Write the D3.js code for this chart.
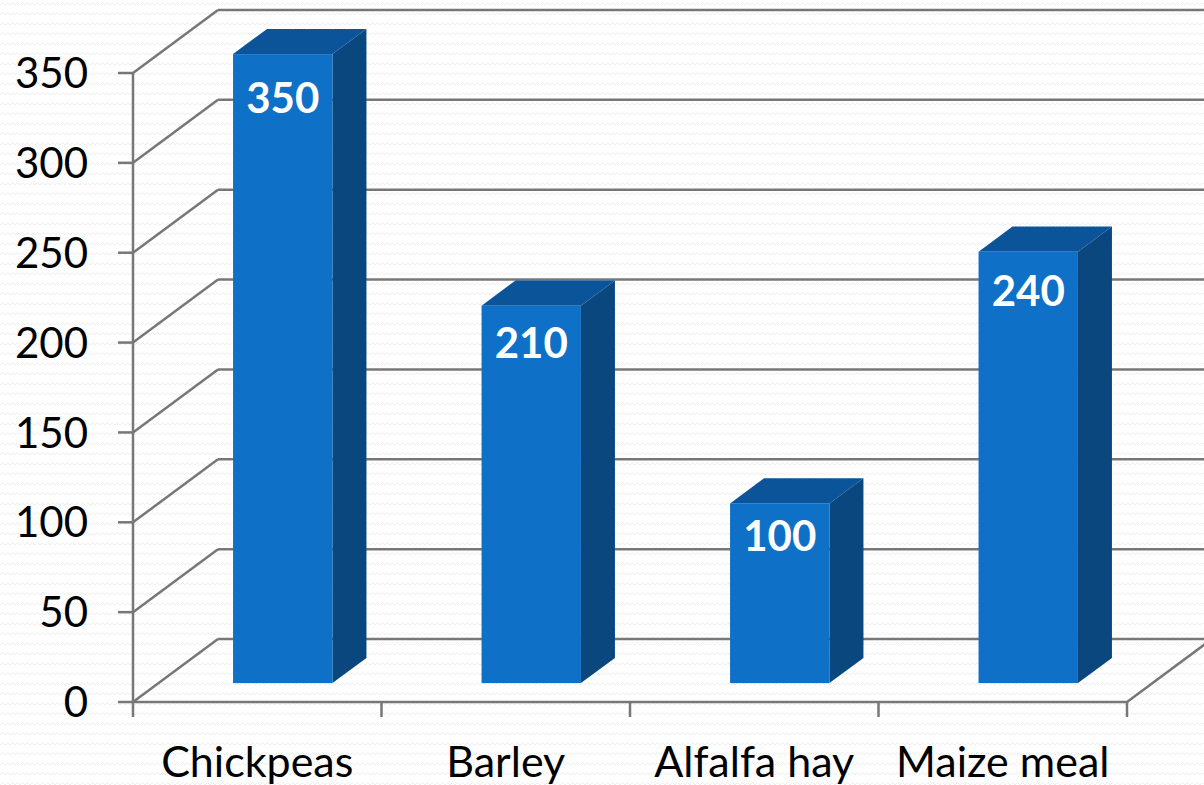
<!DOCTYPE html>
<html>
<head>
<meta charset="utf-8">
<script src="https://cdn.jsdelivr.net/npm/d3@7"></script>
<style>
  html, body { margin: 0; padding: 0; background: #fff; }
  text { font-family: Lato, "Open Sans", sans-serif; }
</style>
</head>
<body>
<div id="chart"></div>
<script>
const categories = ["Chickpeas", "Barley", "Alfalfa hay", "Maize meal"];
const values = [350, 210, 100, 240];
const yTicks = [0, 50, 100, 150, 200, 250, 300, 350];

const width = 1204;
const height = 785;

// depth vector of the 3D box (front -> back)
const dx = 85, dy = -63;

const svg = d3.select("#chart").append("svg")
    .attr("width", width)
    .attr("height", height);

// faint zigzag background texture
const pat = svg.append("defs").append("pattern")
    .attr("id", "zig")
    .attr("width", 10).attr("height", 10)
    .attr("patternUnits", "userSpaceOnUse");
pat.append("path")
    .attr("d", "M0,5 L2.5,2.5 L5,5 L7.5,2.5 L10,5")
    .attr("fill", "none")
    .attr("stroke", "#ededed")
    .attr("stroke-width", 1);
svg.append("rect").attr("width", width).attr("height", height).attr("fill", "#fff");
svg.append("rect").attr("width", width).attr("height", height).attr("fill", "url(#zig)");

const x = d3.scaleBand().domain(categories).range([133, 1127]).padding(0);
const y = d3.scaleLinear().domain([0, 350]).range([702, 73]);

const gridColor = "#777";
const grid = svg.append("g")
    .attr("stroke", gridColor)
    .attr("stroke-width", 2.5)
    .attr("fill", "none");

// back wall lines + side wall diagonals
yTicks.forEach(function(t) {
    grid.append("line")
        .attr("x1", 133 + dx).attr("y1", y(t) + dy)
        .attr("x2", 1127 + dx).attr("y2", y(t) + dy);
    grid.append("line")
        .attr("x1", 133).attr("y1", y(t))
        .attr("x2", 133 + dx).attr("y2", y(t) + dy);
});

// floor front edge and right diagonal
grid.append("line").attr("x1", 133).attr("y1", y(0)).attr("x2", 1127).attr("y2", y(0));
grid.append("line").attr("x1", 1127).attr("y1", y(0)).attr("x2", 1127 + dx).attr("y2", y(0) + dy);

// value axis
grid.append("line").attr("x1", 133).attr("y1", y(350)).attr("x2", 133).attr("y2", y(0));
yTicks.forEach(function(t) {
    grid.append("line").attr("x1", 118).attr("y1", y(t)).attr("x2", 133).attr("y2", y(t));
});

// category ticks
const catEdges = categories.map(c => x(c)).concat([x.range()[1]]);
catEdges.forEach(function(e) {
    grid.append("line").attr("x1", e).attr("y1", y(0)).attr("x2", e).attr("y2", y(0) + 15);
});

// tick labels
svg.append("g").selectAll("text")
    .data(yTicks)
    .enter().append("text")
    .attr("x", 88)
    .attr("y", d => y(d))
    .attr("dy", "0.36em")
    .attr("text-anchor", "end")
    .attr("font-size", 42)
    .attr("fill", "#000")
    .text(d => d);

svg.append("g").selectAll("text")
    .data(categories)
    .enter().append("text")
    .attr("x", d => x(d) + x.bandwidth() / 2)
    .attr("y", 777)
    .attr("text-anchor", "middle")
    .attr("font-size", 43)
    .attr("fill", "#000")
    .text(d => d);

// bars
const barW = x.bandwidth() * 0.4;
const f0 = 0.3, fd = 0.4; // depth placement of the box
const bars = svg.append("g").selectAll("g")
    .data(categories.map((c, i) => ({ cat: c, v: values[i] })))
    .enter().append("g");

function bx(d) { return x(d.cat) + x.bandwidth() / 2 - barW / 2 + f0 * dx; }
function byTop(d) { return y(d.v) + f0 * dy; }
function byBot() { return y(0) + f0 * dy; }

// side face
bars.append("path")
    .attr("fill", "#0a477f")
    .attr("d", function(d) {
        const xr = bx(d) + barW, t = byTop(d), b = byBot();
        return `M${xr},${t} L${xr + fd * dx},${t + fd * dy} L${xr + fd * dx},${b + fd * dy} L${xr},${b} Z`;
    });
// top face
bars.append("path")
    .attr("fill", "#0b5499")
    .attr("d", function(d) {
        const xl = bx(d), t = byTop(d);
        return `M${xl},${t} L${xl + barW},${t} L${xl + barW + fd * dx},${t + fd * dy} L${xl + fd * dx},${t + fd * dy} Z`;
    });
// front face
bars.append("rect")
    .attr("fill", "#0e70c6")
    .attr("x", d => bx(d))
    .attr("y", d => byTop(d))
    .attr("width", barW)
    .attr("height", d => byBot() - byTop(d));

// labels sit a little lower on taller bars
bars.append("text")
    .attr("x", d => bx(d) + barW / 2)
    .attr("y", d => byTop(d) + 28 + 0.045 * d.v)
    .attr("dy", "0.36em")
    .attr("text-anchor", "middle")
    .attr("font-size", 42)
    .attr("font-weight", "bold")
    .attr("fill", "#fff")
    .text(d => d.v);
</script>
</body>
</html>
